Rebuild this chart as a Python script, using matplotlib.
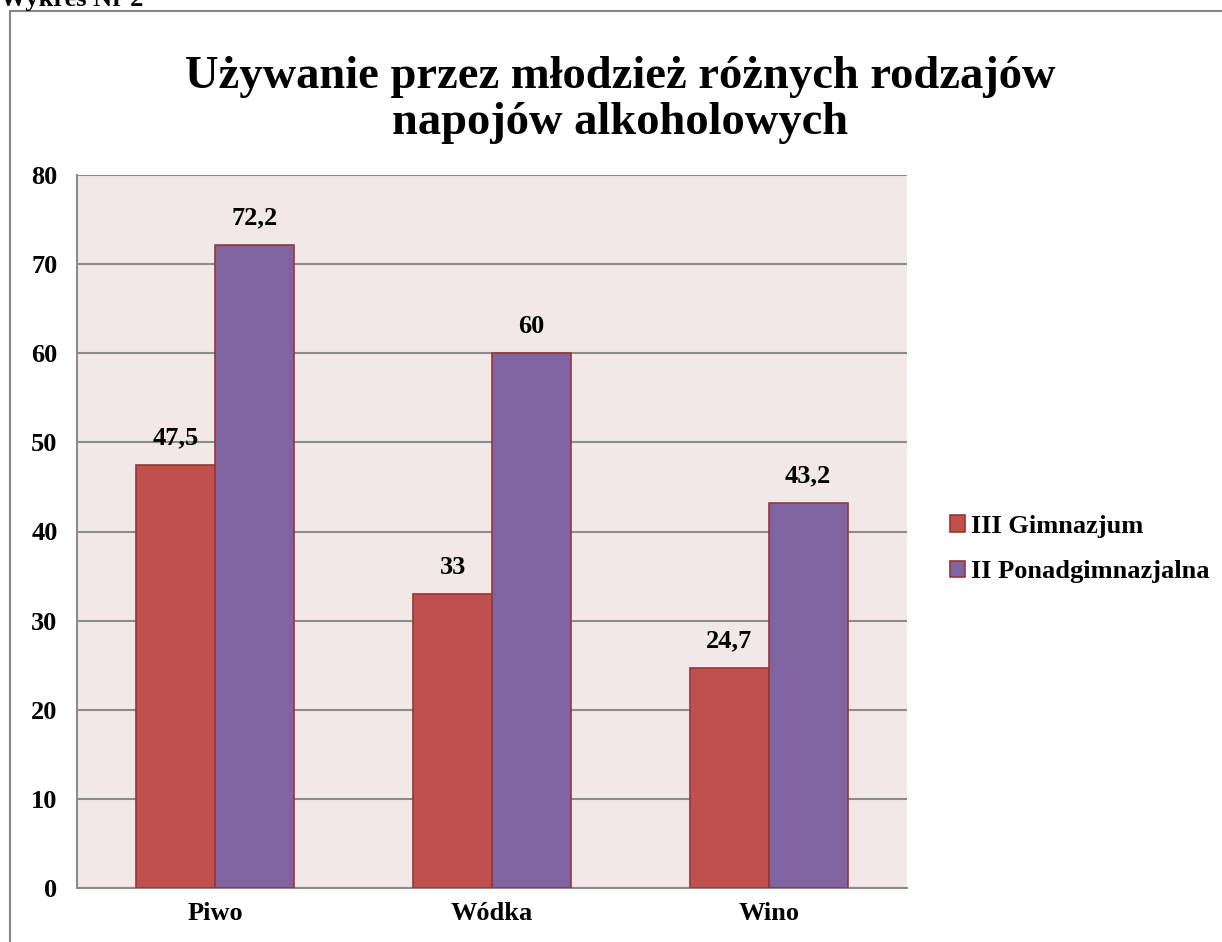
import matplotlib.pyplot as plt
import numpy as np

categories = ['Piwo', 'Wódka', 'Wino']
gimnazjum = [47.5, 33, 24.7]
ponadgim = [72.2, 60, 43.2]
labels_g = ['47,5', '33', '24,7']
labels_p = ['72,2', '60', '43,2']
series_names = ['III Gimnazjum', 'II Ponadgimnazjalna']

plt.rcParams['font.family'] = ['Liberation Serif', 'DejaVu Serif']
plt.rcParams['font.weight'] = 'bold'

W, H = 1222, 942
fig = plt.figure(figsize=(W / 100, H / 100), dpi=100)

# outer chart frame
frame = plt.Rectangle((10 / W, -0.1), 1.2, 1 - 11 / H + 0.1, transform=fig.transFigure,
                      fill=False, edgecolor='#868686', linewidth=1.5)
fig.add_artist(frame)
fig.text(0, 1 + 12 / H, 'Wykres Nr 2', fontsize=19, fontweight='bold', va='top', ha='left')

ax = fig.add_axes([77 / W, 1 - 888 / H, (907 - 77) / W, (888 - 175) / H])
ax.set_facecolor('#F2E8E8')

x = np.arange(len(categories))
w = 0.285
b1 = ax.bar(x - w / 2, gimnazjum, w, color='#C0504D', edgecolor='#953735', linewidth=1.2,
            label=series_names[0], zorder=3)
b2 = ax.bar(x + w / 2, ponadgim, w, color='#8064A2', edgecolor='#953735', linewidth=1.2,
            label=series_names[1], zorder=3)
ax.bar_label(b1, labels=labels_g, padding=11, fontsize=19, fontweight='bold')
ax.bar_label(b2, labels=labels_p, padding=11, fontsize=19, fontweight='bold')

ax.set_xlim(-0.5, 2.5)
ax.set_ylim(0, 80)
ax.set_yticks(range(0, 81, 10))
ax.set_xticks(x)
ax.set_xticklabels(categories)
ax.tick_params(axis='both', length=0, labelsize=19)
ax.tick_params(axis='x', pad=10)
ax.tick_params(axis='y', pad=14)
ax.grid(axis='y', color='#8C8C8C', linewidth=1.5, zorder=0)
ax.set_axisbelow(True)
for s in ['top', 'right']:
    ax.spines[s].set_visible(False)
for s in ['left', 'bottom']:
    ax.spines[s].set_color('#8C8C8C')
    ax.spines[s].set_linewidth(1.5)

fig.text(620 / W, 1 - 100 / H,
         'Używanie przez młodzież różnych rodzajów\nnapojów alkoholowych',
         fontsize=33.5, fontweight='bold', ha='center', va='center', linespacing=1.1)

leg = ax.legend(loc='center left', frameon=False,
                fontsize=19, handlelength=0.6, handleheight=0.6, handletextpad=0.2,
                labelspacing=0.85, borderaxespad=0)
leg.set_bbox_to_anchor((939 / W, 1 - 549 / H), transform=fig.transFigure)

fig.savefig('out.png', dpi=100)
